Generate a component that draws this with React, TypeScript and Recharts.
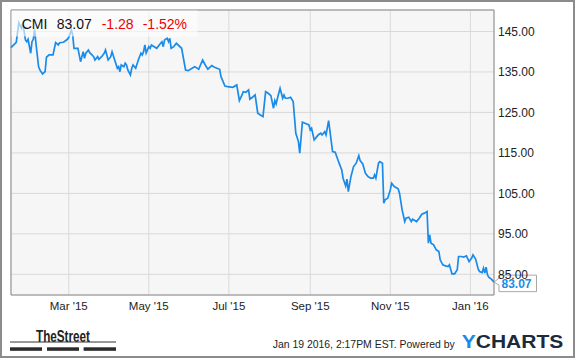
import React from 'react';
import { LineChart, Line, XAxis, YAxis, CartesianGrid, ReferenceArea } from 'recharts';

// Days since 2015-01-16 (first day on the chart)
const days = [
  0, 4, 6, 8, 9, 11, 12, 13, 15, 16, 17, 18, 19, 21, 22, 24, 26, 27, 29, 32,
  34, 36, 37, 40, 43, 44, 46, 47, 48, 51, 53, 55, 56, 57, 59, 60, 63, 64, 66, 67,
  69, 71, 72, 74, 76, 77, 79, 81, 82, 83, 84, 86, 87, 88, 89, 91, 92, 93, 95, 97,
  99, 100, 101, 102, 103, 105, 106, 107, 111, 114, 115, 116, 117, 119, 120, 121, 122, 124, 126, 130,
  133, 135, 138, 140, 143, 146, 148, 150, 153, 155, 159, 160, 163, 165, 169, 172, 174, 176, 177, 179,
  181, 182, 184, 186, 188, 190, 192, 194, 196, 198, 200, 201, 202, 203, 205, 207, 208, 209, 211, 213,
  215, 217, 219, 220, 222, 224, 227, 228, 229, 231, 233, 234, 236, 237, 239, 240, 242, 245, 247, 250,
  252, 253, 255, 256, 257, 259, 261, 263, 265, 266, 268, 270, 272, 274, 276, 277, 278, 280, 281, 283,
  284, 285, 287, 289, 290, 292, 295, 296, 298, 300, 301, 303, 305, 306, 309, 311, 313, 315, 317, 318,
  319, 320, 322, 324, 326, 327, 329, 331, 333, 334, 336, 338, 340, 341, 343, 345, 347, 349, 351, 352,
  354, 356, 357, 359, 360, 361, 362, 363, 364, 366, 368,
];

const prices = [
  141.0, 142.33, 147.17, 145.79, 147.02, 142.9, 142.48, 143.07, 139.62, 142.48, 143.07, 145.54, 142.09, 136.31, 135.49, 134.51, 135.07, 138.63, 139.2, 139.2,
  142.23, 141.67, 142.23, 142.33, 143.07, 143.57, 145.37, 144.14, 140.85, 140.85, 137.54, 140.01, 138.38, 139.62, 140.43, 139.77, 138.78, 137.96, 138.78, 138.14,
  138.78, 139.62, 140.43, 137.96, 138.78, 140.01, 137.96, 135.91, 136.31, 135.07, 136.73, 136.31, 137.15, 136.73, 135.49, 134.26, 135.91, 136.73, 135.91, 137.96,
  139.62, 139.2, 140.01, 141.67, 139.69, 141.25, 140.85, 141.67, 140.85, 142.09, 142.48, 141.25, 142.9, 143.32, 142.48, 143.32, 140.85, 141.26, 142.09, 140.85,
  135.49, 135.32, 135.91, 136.31, 135.67, 137.96, 136.73, 135.67, 136.56, 136.16, 135.67, 133.84, 131.54, 131.37, 131.22, 131.79, 127.91, 129.32, 130.14, 129.99,
  130.56, 128.26, 128.75, 129.32, 124.8, 124.38, 123.96, 130.14, 129.74, 129.15, 126.04, 127.91, 127.1, 128.51, 130.98, 128.51, 129.32, 128.51, 128.51, 128.75,
  127.67, 119.86, 117.79, 114.93, 122.58, 122.33, 121.91, 120.68, 121.1, 118.21, 119.02, 119.44, 119.86, 119.44, 120.26, 119.44, 122.98, 115.32, 115.17, 112.46,
  110.8, 108.75, 106.85, 108.51, 105.44, 109.15, 111.62, 112.46, 114.33, 113.1, 112.28, 109.99, 109.15, 108.75, 108.75, 109.57, 108.75, 112.46, 112.85, 112.46,
  102.58, 103.4, 103.81, 105.86, 107.52, 106.68, 106.11, 105.05, 100.93, 98.04, 98.88, 99.12, 98.04, 98.62, 98.04, 98.88, 99.86, 100.11, 100.51, 92.7,
  94.75, 92.7, 92.28, 91.05, 90.63, 88.58, 87.35, 87.1, 86.93, 87.35, 85.12, 85.12, 86.11, 89.4, 89.4, 89.25, 89.57, 88.16, 89.0, 89.81,
  88.75, 86.28, 85.69, 85.44, 86.53, 85.3, 86.78, 84.88, 84.31, 83.81, 83.07,
];

const xTickDates = ['2015-03-01', '2015-05-01', '2015-07-01', '2015-09-01', '2015-11-01', '2016-01-01'];
const yTicks = [85, 95, 105, 115, 125, 135, 145];
const monthNames = ['Jan', 'Feb', 'Mar', 'Apr', 'May', 'Jun', 'Jul', 'Aug', 'Sep', 'Oct', 'Nov', 'Dec'];

const START = Date.UTC(2015, 0, 16);
const DAY = 86400000;
const END = START + 368 * DAY;
const Y_MIN = 79.89;
const Y_MAX = 150.31;

const data = days.map((d, i) => ({ t: START + d * DAY, price: prices[i] }));
const xTicks = xTickDates.map((s) => Date.parse(s));
const lastIdx = data.length - 1;

const fmtX = (v: number) => {
  const dt = new Date(v);
  return `${monthNames[dt.getUTCMonth()]} '${String(dt.getUTCFullYear()).slice(2)}`;
};

const renderDot = (props: any) => {
  const { cx, cy, index } = props;
  if (index !== lastIdx) return <g key={`d${index}`} />;
  const path = `M${cx},${cy} L${cx + 5},${cy - 4} V${cy - 7} H${cx + 42.5} V${cy + 9.5} H${cx + 5} V${cy + 3} Z`;
  return (
    <g key="last">
      <path d={path} fill="#ffffff" stroke="#a8a8a8" strokeWidth={1} />
      <text x={cx + 7.5} y={cy + 5.6} fontSize={12} fontWeight="bold" fill="#1a8be8">
        {prices[lastIdx].toFixed(2)}
      </text>
    </g>
  );
};

export default function App() {
  return (
    <div
      style={{
        position: 'absolute',
        left: 0,
        top: 0,
        width: 575,
        height: 358,
        boxSizing: 'border-box',
        border: '2px solid #8c8c8c',
        background: '#ffffff',
        fontFamily: '"Liberation Sans", Arial, sans-serif',
      }}
    >
      <div style={{ position: 'absolute', left: -2, top: -2 }}>
        <LineChart width={575} height={358} data={data} margin={{ top: 10, right: 11, bottom: 33, left: 11 }}>
          <CartesianGrid stroke="#d9d9d9" fill="#f6f6f6" strokeWidth={1} />
          <XAxis
            type="number"
            dataKey="t"
            domain={[START, END]}
            ticks={xTicks}
            interval={0}
            tickFormatter={fmtX}
            axisLine={false}
            tickLine={false}
            tickSize={0}
            tickMargin={7}
            height={30}
            tick={{ fill: '#222222', fontSize: 11.5 }}
          />
          <YAxis
            orientation="right"
            type="number"
            domain={[Y_MIN, Y_MAX]}
            ticks={yTicks}
            interval={0}
            tickFormatter={(v: number) => v.toFixed(2)}
            axisLine={false}
            tickLine={false}
            tickSize={0}
            tickMargin={4}
            width={70}
            tick={{ fill: '#222222', fontSize: 12 }}
          />
          <ReferenceArea x1={START} x2={END} y1={Y_MIN} y2={Y_MAX} fill="none" stroke="#8c8c8c" strokeWidth={1} ifOverflow="visible" />
          <Line
            type="linear"
            dataKey="price"
            stroke="#1a8be8"
            strokeWidth={1.7}
            dot={renderDot}
            activeDot={false}
            isAnimationActive={false}
            zIndex={700}
          />
        </LineChart>
      </div>
      <svg width={575} height={358} style={{ position: 'absolute', left: -2, top: -2, pointerEvents: 'none' }}>
        <rect x={11.5} y={10.5} width={186} height={26} fill="#ffffff" opacity={0.6} />
        <text x={21.7} y={29.3} fontSize={14} fill="#111111">CMI</text>
        <text x={56.7} y={29.3} fontSize={14} fill="#111111">83.07</text>
        <text x={101.7} y={29.3} fontSize={14} fill="#ee0000">-1.28</text>
        <text x={142.7} y={29.3} fontSize={14} fill="#ee0000">-1.52%</text>

        <text x={36} y={341.5} fontSize={16} fontWeight="bold" fill="#222222" textLength={54} lengthAdjust="spacingAndGlyphs">TheStreet</text>
        <line x1={10} y1={342} x2={116} y2={342} stroke="#333333" strokeWidth={1} />
        <rect x={10} y={347.3} width={32} height={3.5} fill="#2a2a2a" />
        <rect x={47} y={347.3} width={32} height={3.5} fill="#2a2a2a" />
        <rect x={83.6} y={347.3} width={32.4} height={3.5} fill="#2a2a2a" />

        <text x={272.7} y={348.3} fontSize={11} fill="#222222" textLength={182} lengthAdjust="spacingAndGlyphs">Jan 19 2016, 2:17PM EST.  Powered by</text>
        <text x={461.7} y={348.3} fontSize={18.5} fontWeight="bold" textLength={101.6} lengthAdjust="spacingAndGlyphs">
          <tspan fill="#1a8be8">Y</tspan>
          <tspan fill="#1b2a3d">CHARTS</tspan>
        </text>
      </svg>
    </div>
  );
}
